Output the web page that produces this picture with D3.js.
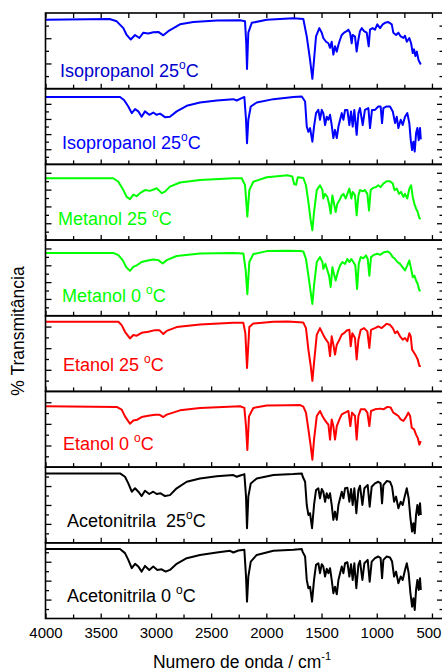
<!DOCTYPE html>
<html>
<head>
<meta charset="utf-8">
<script src="https://cdn.jsdelivr.net/npm/d3@7"></script>
<style>
  body { margin: 0; background: #fff; }
  text { font-family: "Liberation Sans", Arial, sans-serif; }
</style>
</head>
<body>
<div id="chart"></div>
<script>
// wavenumber (cm-1) / relative transmittance (0 = bottom of panel, 100 = top)
const isoA = [[4000,91],[3420,92],[3355,89],[3295,80],[3265,71],[3228,65],[3189,71],[3150,67],[3114,74],[3069,73],[3024,74.5],[2978,75],[2933,70.5],[2888,76],[2782,85],[2661,88],[2449,90],[2238,90.4],[2193,89],[2182,60],[2175,26],[2168,55],[2163,74],[2132,87],[1996,91],[1755,93],[1665,92],[1634,69],[1604,38],[1583,13],[1568,38],[1550,69],[1520,80],[1498,74],[1484,67],[1459,62],[1438,60],[1423,54],[1408,62],[1393,45],[1378,56],[1362,49],[1347,58],[1332,65],[1317,71],[1296,74],[1272,76],[1257,78],[1242,74],[1227,60],[1218,71],[1197,69],[1182,49],[1166,65],[1152,76],[1136,80],[1115,76],[1091,74],[1073,56],[1061,78],[1037,80],[1016,78],[995,85],[970,80],[946,85],[925,87],[895,88],[864,85],[850,74],[825,71],[804,74],[783,69],[759,67],[744,70],[728,62],[705,67],[689,60],[674,47],[662,52],[650,43],[637,49],[622,38],[601,32]];

const isoB = [[4000,89],[3325,89],[3289,85],[3250,76.5],[3219,67.7],[3189,73],[3159,70],[3129,63],[3099,70],[3060,65.5],[3024,68.5],[2993,65.5],[2963,67],[2918,62.4],[2873,63],[2812,70],[2721,77.4],[2601,81.7],[2449,84.4],[2299,86.2],[2268,84.4],[2223,87.6],[2199,89],[2184,59],[2175,28],[2163,59],[2141,76.5],[2087,81.7],[1936,86.2],[1755,89],[1679,89.7],[1649,83],[1634,50],[1619,43],[1604,48],[1583,30],[1568,50],[1550,67.7],[1529,72],[1514,59],[1498,72],[1484,67.7],[1468,52],[1453,63],[1438,59],[1423,65.5],[1408,52],[1393,34.7],[1378,45.6],[1362,34.7],[1347,50],[1332,59],[1317,67.7],[1302,59],[1287,72],[1266,72],[1248,52],[1233,70],[1218,50],[1203,72],[1182,39],[1166,67.7],[1152,74.3],[1127,52],[1107,72],[1076,74.3],[1061,48],[1043,72],[1016,72],[986,76.5],[965,76.5],[952,54.5],[940,74.3],[910,76.5],[880,76.5],[855,70],[834,54.5],[819,63],[804,48],[783,59],[765,52],[744,63],[723,67.7],[705,54.5],[692,32],[680,19],[668,30],[656,17],[644,41],[632,48],[620,32],[608,48],[601,33]];

const met25 = [[4000,81.7],[3386,81.7],[3340,77],[3295,66],[3265,57],[3235,54],[3205,60],[3174,58],[3144,62],[3099,66],[3054,65],[2993,68.5],[2948,62],[2918,64],[2873,70.6],[2782,76],[2601,79.5],[2299,81.7],[2223,81.7],[2193,72.8],[2172,31],[2154,66],[2118,77],[1996,83],[1805,85.5],[1765,84],[1748,74],[1731,73],[1715,83],[1665,82],[1641,72.4],[1619,50],[1598,26],[1583,13],[1568,37],[1543,66],[1514,72.4],[1492,66],[1484,55],[1468,61],[1447,57],[1429,46],[1417,35],[1402,59],[1384,46],[1372,37],[1357,48],[1338,52.6],[1317,59],[1302,61],[1281,55],[1266,61],[1248,68],[1230,55],[1218,63.6],[1197,59],[1182,32.7],[1166,59],[1152,66],[1127,64.5],[1107,66],[1085,61],[1070,39],[1055,66],[1031,69],[1007,70],[986,72.4],[965,70],[940,74.6],[910,77.7],[880,77.7],[855,74.6],[840,66],[819,68],[798,61],[780,63.6],[759,57],[744,61],[723,55],[705,68],[689,72.4],[674,57],[659,48],[644,41.5],[629,37],[614,29],[601,28]];

const met0 = [[4000,83],[3386,83],[3340,80],[3301,73.5],[3271,64.6],[3235,59.3],[3205,64.6],[3169,67],[3129,71],[3084,72.6],[3024,74.4],[2978,73.5],[2939,69],[2902,73.5],[2812,79],[2601,82.4],[2299,83],[2208,82.4],[2187,60],[2172,28.5],[2154,71],[2118,81.5],[1996,85.4],[1805,86],[1694,85.4],[1665,85],[1641,75],[1619,53],[1598,31],[1583,15.6],[1568,40],[1543,71],[1514,77.5],[1492,71],[1484,62],[1465,68.6],[1447,60],[1432,53],[1417,38],[1402,64],[1384,53],[1372,46.6],[1353,57.6],[1332,66.5],[1311,71],[1287,68.6],[1266,75],[1248,71],[1230,75],[1212,71],[1194,66.5],[1178,35.5],[1163,68.6],[1145,77.5],[1121,76],[1097,79.7],[1082,75],[1067,53],[1052,77.5],[1025,80.5],[995,82],[970,80.5],[934,84],[904,85],[880,83],[855,77.5],[834,75],[813,71],[789,68.6],[765,64],[744,60],[723,66.5],[705,73],[689,62],[674,51],[659,53],[644,46.6],[629,42],[614,33.5],[601,33.5]];

const et25 = [[4000,92],[3340,92],[3310,87.6],[3280,78.8],[3235,70],[3205,74.5],[3174,73.6],[3129,77.5],[3069,78.8],[3009,81],[2969,81],[2933,75.8],[2902,80],[2812,85],[2601,88.5],[2299,90.6],[2208,90.6],[2190,76.7],[2175,31],[2154,85],[2118,89.8],[1936,92],[1805,92.4],[1665,91],[1641,83.7],[1619,55.3],[1598,33.6],[1583,14],[1568,38],[1543,75],[1514,83.7],[1492,77],[1478,72.8],[1459,68.4],[1438,64],[1423,46.7],[1408,72.8],[1393,61.8],[1378,48.8],[1362,61.8],[1338,68.4],[1317,75],[1296,77],[1272,80.6],[1248,81.4],[1236,59.7],[1221,77],[1197,70.6],[1182,42.2],[1166,68.4],[1145,81.4],[1115,83.7],[1085,79.3],[1067,57.5],[1052,81.4],[1016,83.7],[986,85.9],[955,83.7],[910,89.3],[880,88],[855,83.7],[834,77],[813,79.3],[789,72.8],[765,68.4],[744,70.6],[723,66.3],[705,77],[692,72.8],[680,55.3],[662,51],[644,46.7],[629,42.2],[614,33.6],[601,33.6]];

const et0 = [[4000,80.4],[3355,79.6],[3310,76],[3280,67],[3235,57.3],[3205,61.7],[3169,62.7],[3129,66.2],[3069,68],[3009,69.3],[2969,69.3],[2933,66.2],[2902,69.3],[2782,75],[2601,78.2],[2238,80.4],[2199,78.2],[2184,53.7],[2172,22.7],[2157,67],[2118,78.2],[1996,81.3],[1805,81.8],[1694,82],[1665,80],[1641,72],[1619,49.8],[1598,27.6],[1583,9.8],[1568,36.4],[1543,67.6],[1514,74.2],[1492,67.6],[1474,63],[1453,58.7],[1438,56.4],[1423,36.4],[1408,63],[1393,54.2],[1378,36.4],[1362,54.2],[1338,63],[1317,69.7],[1287,72],[1257,74.2],[1239,54.2],[1224,72],[1197,67.6],[1182,36.4],[1166,67.6],[1145,76.4],[1107,76.4],[1085,72],[1067,54.2],[1052,74.2],[1016,76.4],[970,77.3],[940,76.4],[904,79.6],[874,78.7],[850,72],[825,69.7],[804,67.6],[783,63],[759,61],[738,65.3],[714,72],[698,67.6],[683,52],[662,49.8],[644,43],[629,38.7],[614,29.7],[601,34.3]];

const acn25 = [[4000,91.7],[3325,91.7],[3280,87.3],[3250,78.5],[3219,67.5],[3189,72],[3159,67.5],[3129,61.8],[3099,68.8],[3060,64.5],[3024,67.5],[2993,64.5],[2957,65.4],[2918,61.8],[2873,63],[2812,72],[2721,80.7],[2601,85],[2449,88],[2299,89.5],[2268,87.3],[2223,89.5],[2199,90.8],[2184,61],[2175,19.3],[2163,61],[2141,78.5],[2087,85],[1936,89.5],[1755,90.8],[1679,91.7],[1670,87.3],[1649,80.7],[1634,50],[1619,36.8],[1604,39],[1586,19.3],[1568,50],[1550,69.7],[1529,72],[1514,58.8],[1498,71],[1484,67.5],[1468,54.3],[1453,65.4],[1438,58.8],[1423,65.4],[1408,50],[1393,30.3],[1378,41.2],[1362,30.3],[1347,50],[1332,58.8],[1317,67.5],[1302,58.8],[1287,72],[1266,72.8],[1248,54.3],[1233,71],[1218,50],[1203,72],[1185,39],[1166,69.7],[1152,75.4],[1130,50],[1112,72],[1082,76.3],[1064,47.8],[1046,74],[1016,78.5],[986,80.7],[965,78.5],[952,52.2],[940,76.3],[910,81.6],[880,80.7],[861,74],[843,54.3],[825,61],[804,45.7],[783,54.3],[765,50],[744,63],[728,72],[711,58.8],[695,32.5],[680,14.9],[668,25.9],[656,12.7],[644,36.8],[632,50],[620,36.8],[608,52.2],[601,36.8]];

const acn0 = [[4000,91.7],[3325,91.7],[3280,86.4],[3250,77.5],[3219,66.5],[3189,72.2],[3159,68.6],[3129,62],[3099,69.5],[3060,64.2],[3024,68.6],[2987,64.2],[2948,65],[2912,62],[2873,64.2],[2812,72.2],[2721,79.7],[2601,84],[2449,87.2],[2329,89.4],[2299,87.2],[2253,89.8],[2199,90.7],[2184,55.4],[2175,22.3],[2163,55.4],[2141,75.2],[2087,84],[1936,89.4],[1755,90.7],[1679,91.7],[1670,87.7],[1649,81.9],[1634,51],[1619,40],[1604,42],[1586,22.3],[1568,51],[1550,70.9],[1529,73],[1514,59.9],[1498,71.8],[1484,68.6],[1468,55.4],[1453,65.6],[1438,59.9],[1423,66.5],[1408,51],[1393,33.4],[1378,42],[1362,32],[1347,51],[1332,59.9],[1317,68.6],[1302,59.9],[1287,73],[1266,74.4],[1248,55.4],[1233,71.8],[1218,51],[1203,73],[1185,40],[1166,70.9],[1152,76.2],[1130,51],[1112,73],[1082,77.5],[1064,48.7],[1046,75.2],[1016,79.7],[986,81.9],[965,79.7],[952,53.2],[940,77.5],[910,81.9],[880,80.5],[861,75.2],[843,55.4],[825,62],[804,46.6],[783,55.4],[765,51],[744,64.2],[728,73],[711,59.9],[695,33.4],[680,15.6],[668,26.7],[656,11.3],[644,37.7],[632,51],[620,37.7],[608,53.2],[601,37.7]];

const spectra = [isoA, isoB, met25, met0, et25, et0, acn25, acn0];
const labelText = ["Isopropanol 25", "Isopropanol 25", "Metanol 25 ", "Metanol 0 ", "Etanol 25 ", "Etanol 0 ", "Acetonitrila  25", "Acetonitrila 0 "];
const colors = ["#0000ff", "#0000ff", "#00ff00", "#00ff00", "#ff0000", "#ff0000", "#000000", "#000000"];
const yIntervals = [6, 10, 9, 9, 7, 7, 8, 8];
const majorTicks = [4000, 3500, 3000, 2500, 2000, 1500, 1000, 500];
const minorTicks = [3750, 3250, 2750, 2250, 1750, 1250, 750];

const W = 442, H = 672;
const mLeft = 45.5, mRight = 443, mTop = 13, mBottom = 618.5;
const ph = (mBottom - mTop) / spectra.length;
const labelX = [60, 62, 58, 62, 63, 63, 67, 67];
const labelDown = [64, 60.5, 60.7, 62, 55.5, 59, 60.3, 59.6];   // baseline below panel top

const svg = d3.select("#chart").append("svg")
    .attr("width", W)
    .attr("height", H);

const x = d3.scaleLinear().domain([4000, 400]).range([mLeft, mRight]);

spectra.forEach(function(data, i) {
    const y0 = mTop + i * ph, y1 = y0 + ph;
    const y = d3.scaleLinear().domain([0, 100]).range([y1, y0]);
    const g = svg.append("g");

    // y ticks on both sides, alternating long/short
    const yt = d3.scaleLinear().domain([0, yIntervals[i]]).range([y1, y0]);
    const inner = d3.range(1, yIntervals[i]);
    const longT = inner.filter(d => d % 2 === 0), shortT = inner.filter(d => d % 2 === 1);
    [[longT, 6], [shortT, 3.5]].forEach(function(p) {
        g.append("g").attr("transform", "translate(" + mLeft + ",0)")
            .call(d3.axisLeft(yt).tickValues(p[0]).tickSize(-p[1]).tickFormat(""));
        g.append("g").attr("transform", "translate(" + mRight + ",0)")
            .call(d3.axisRight(yt).tickValues(p[0]).tickSize(-p[1]).tickFormat(""));
    });

    // x ticks pointing up from each panel bottom
    g.append("g").attr("transform", "translate(0," + y1 + ")")
        .call(d3.axisBottom(x).tickValues(majorTicks).tickSize(-5).tickFormat(""));
    g.append("g").attr("transform", "translate(0," + y1 + ")")
        .call(d3.axisBottom(x).tickValues(minorTicks).tickSize(-4).tickFormat(""));
    if (i === 0) {
        g.append("g").attr("transform", "translate(0," + y0 + ")")
            .call(d3.axisTop(x).tickValues(majorTicks.concat(minorTicks)).tickSize(-5).tickFormat(""));
    }
    g.selectAll(".domain").remove();
    g.selectAll(".tick line").attr("stroke", "#000").attr("stroke-width", 1.3);

    svg.append("path")
        .datum(data)
        .attr("fill", "none")
        .attr("stroke", colors[i])
        .attr("stroke-width", 2)
        .attr("stroke-linejoin", "round")
        .attr("d", d3.line().x(d => x(d[0])).y(d => y(d[1])));

    svg.append("rect")
        .attr("x", mLeft).attr("y", y0)
        .attr("width", mRight - mLeft).attr("height", ph)
        .attr("fill", "none")
        .attr("stroke", "#000")
        .attr("stroke-width", 1.6);

    const t = svg.append("text")
        .attr("x", labelX[i])
        .attr("y", y0 + labelDown[i])
        .attr("fill", i === 0 ? "#0000cc" : colors[i])
        .attr("font-size", 18)
        .style("white-space", "pre");
    t.append("tspan").text(labelText[i]);
    t.append("tspan").attr("font-size", 12).attr("dy", -8).text("o");
    t.append("tspan").attr("dy", 8).text("C");
});

// bottom tick labels
const ax = svg.append("g")
    .attr("transform", "translate(0," + mBottom + ")")
    .call(d3.axisBottom(x).tickValues(majorTicks).tickSize(0).tickPadding(9).tickFormat(d3.format("d")));
ax.select(".domain").remove();
ax.selectAll("text")
    .attr("font-size", 15)
    .attr("fill", "#000")
    .style("font-family", "'Liberation Sans', Arial, sans-serif");
// last label pushed against the right edge, kept inside the picture
ax.selectAll(".tick").filter(d => d === 500).select("text")
    .attr("text-anchor", "end").attr("dx", 9);

const xt = svg.append("text")
    .attr("x", 242)
    .attr("y", 668)
    .attr("text-anchor", "middle")
    .attr("font-size", 17.5);
xt.append("tspan").text("Numero de onda / cm");
xt.append("tspan").attr("font-size", 11).attr("dy", -8).text("-1");

svg.append("text")
    .attr("transform", "translate(24,331) rotate(-90)")
    .attr("text-anchor", "middle")
    .attr("font-size", 17.5)
    .text("% Transmitância");
</script>
</body>
</html>
